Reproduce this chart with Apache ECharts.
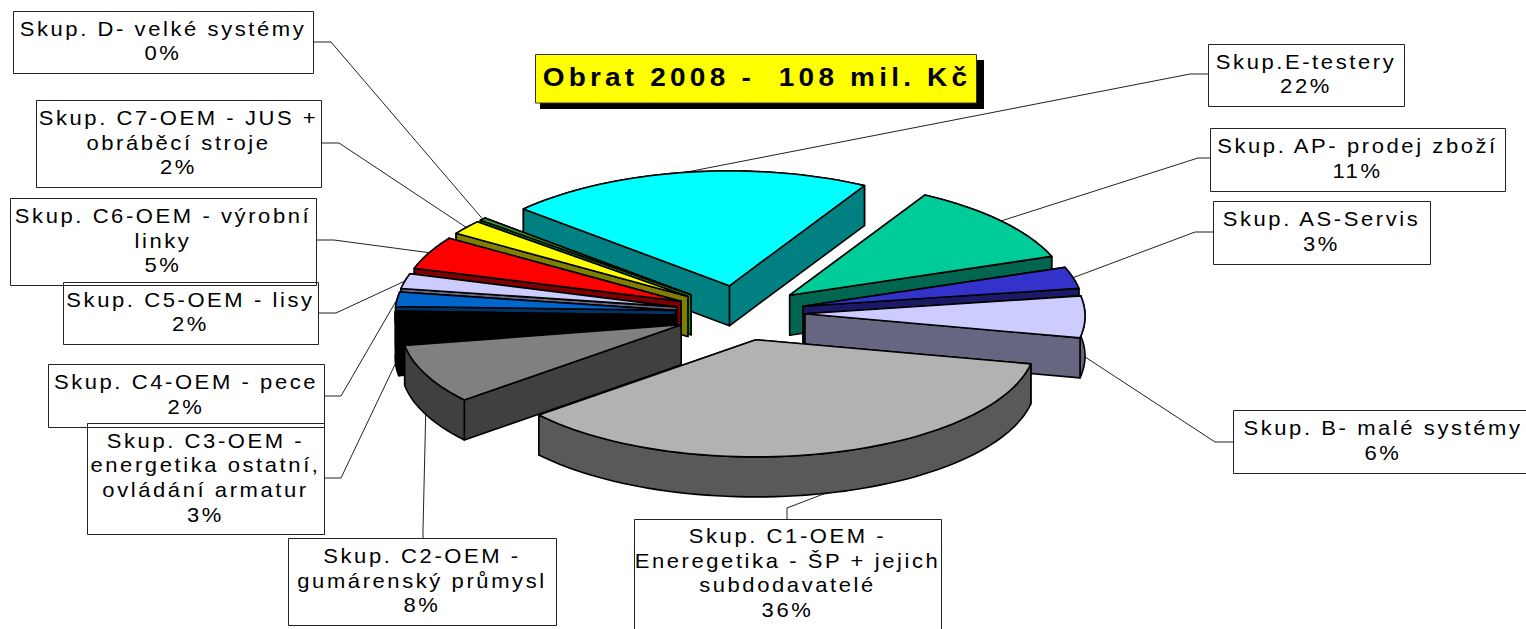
<!DOCTYPE html>
<html>
<head>
<meta charset="utf-8">
<style>
html,body{margin:0;padding:0;background:#fff;}
#main{width:1526px;height:629px;}
svg text{letter-spacing:2.35px;white-space:pre;}
svg text[style*="bold"]{letter-spacing:3.75px;}
</style>
<script src="https://cdn.jsdelivr.net/npm/echarts@6/dist/echarts.min.js"></script>
</head>
<body>
<div id="main"></div>
<script>
// data
var titleText = 'Obrat 2008 -  108 mil. Kč';
var categories = [
  'Skup.E-testery',
  'Skup. AP- prodej zboží',
  'Skup. AS-Servis',
  'Skup. B- malé systémy',
  'Skup. C1-OEM -\nEneregetika - ŠP + jejich\nsubdodavatelé',
  'Skup. C2-OEM -\ngumárenský průmysl',
  'Skup. C3-OEM -\nenergetika ostatní,\novládání armatur',
  'Skup. C4-OEM - pece',
  'Skup. C5-OEM - lisy',
  'Skup. C6-OEM - výrobní\nlinky',
  'Skup. C7-OEM - JUS +\nobráběcí stroje',
  'Skup. D- velké systémy'
];
var values = [21.6, 11.4, 3.0, 5.8, 35.6, 8.3, 3.4, 2.0, 2.1, 4.6, 2.0, 0.4];

// colours
var topColors = ['#00ffff','#00cc99','#3333cc','#ccccff','#b2b2b2','#808080','#000000','#0066cc','#ccccff','#ff0000','#ffff00','#339933'];
var sideColors = ['#008080','#006650','#1a1a66','#666680','#595959','#404040','#000000','#003366','#666680','#800000','#808000','#1a8c1a'];

// back to front
var paintOrder = [0,11,10,9,8,7,6,5,1,2,3,4];

// pie projection
var cx = 740, cy = 313, rx = 280, ry = 116, perspX = 0.02, perspY = 0.01, depth = 40, explode = 65, startAngle = -48.2;
var ky = 118 / 278;

// label boxes: x, y, w, h, then line start and elbow
var labelBoxes = [
  {box:[1208,44,196,62],  from:[1208,74],  elbow:[1190,74]},
  {box:[1210,128,295,63], from:[1210,158], elbow:[1198,158]},
  {box:[1213,201,217,63], from:[1213,232], elbow:[1195,232]},
  {box:[1233,410,300,63], from:[1233,442], elbow:[1215,442]},
  {box:[634,519,307,125], from:[787,519],  elbow:[787,508]},
  {box:[288,538,268,87],  from:[423,538],  elbow:[423,530]},
  {box:[87,423,237,111],  from:[324,478],  elbow:[341,478]},
  {box:[48,364,276,63],   from:[324,396],  elbow:[341,396]},
  {box:[63,282,255,62],   from:[318,313],  elbow:[336,313]},
  {box:[10,198,306,87],   from:[316,240],  elbow:[334,240]},
  {box:[36,100,285,87],   from:[321,143],  elbow:[339,143]},
  {box:[13,11,300,62],    from:[313,42],   elbow:[331,42]}
];

var total = values.reduce(function(a,b){return a+b;},0);
var slices = [];
var acc = startAngle;
values.forEach(function(v){
  slices.push({start:acc,end:acc+v/total*360,mid:acc+v/total*180});
  acc += v/total*360;
});

function apex(s,drop){
  var m = s.mid*Math.PI/180;
  return [cx+explode*Math.sin(m), cy-explode*ky*Math.cos(m)+(drop||0)];
}
function rim(s,deg,drop){
  var t = deg*Math.PI/180, o = apex(s,drop), c = Math.cos(t);
  return [o[0]+rx*(1-perspX*c)*Math.sin(t), o[1]-ry*(1-perspY*c)*c];
}
function poly(points,fill){
  return {type:'polygon',shape:{points:points},
    style:{fill:fill,stroke:'#000',lineWidth:1.6,lineJoin:'round'}};
}
function renderSlice(params,api){
  var i = api.value(0), s = slices[i], n = Math.max(2,Math.ceil((s.end-s.start)/2));
  var top = [], bottom = [];
  for(var k=0;k<=n;k++){
    var d = s.start+(s.end-s.start)*k/n;
    top.push(rim(s,d,0));
    bottom.push(rim(s,d,depth));
  }
  var a0 = apex(s,0), a1 = apex(s,depth);
  var walls = [
    [a0,top[0],bottom[0],a1],
    [a0,top[n],bottom[n],a1],
    top.concat(bottom.slice().reverse())
  ];
  function meanY(p){
    return p.reduce(function(t,q){return t+q[1];},0)/p.length;
  }
  walls.sort(function(a,b){return meanY(a)-meanY(b);});
  var children = walls.map(function(w){return poly(w,sideColors[i]);});
  children.push(poly([a0].concat(top),topColors[i]));
  return {type:'group',children:children};
}
function renderLabel(params,api){
  var i = api.value(0), s = slices[i], L = labelBoxes[i], b = L.box;
  var m = s.mid*Math.PI/180;
  var end = rim(s,s.mid,Math.cos(m)<0?depth:0);
  var pct = Math.round(values[i]/total*100)+'%';
  return {type:'group',children:[
    {type:'rect',shape:{x:b[0]+0.5,y:b[1]+0.5,width:b[2],height:b[3]},
      style:{fill:'none',stroke:'#222',lineWidth:1}},
    {type:'polyline',shape:{points:[L.from,L.elbow,end]},
      style:{fill:'none',stroke:'#222',lineWidth:1}},
    {type:'text',x:b[0]+b[2]/2,y:(i===4?b[1]+54:b[1]+b[3]/2-1),scaleX:1.1,
      style:{text:categories[i]+'\n'+pct,x:0,y:0,
      align:'center',verticalAlign:'middle',fill:'#000',lineHeight:24.7,
      font:'20px "Liberation Sans", Arial, sans-serif'}}
  ]};
}

var chart = echarts.init(document.getElementById('main'),null,{renderer:'svg'});
chart.setOption({
  animation:false,
  backgroundColor:'#fff',
  graphic:[
    {type:'rect',z:5,shape:{x:540,y:60,width:444,height:49},style:{fill:'#000'}},
    {type:'rect',z:6,shape:{x:535.5,y:54.5,width:441,height:48.5},style:{fill:'#ffff00',stroke:'#333',lineWidth:1}},
    {type:'text',z:7,x:757,y:78,scaleX:1.12,style:{text:titleText,x:0,y:0,align:'center',verticalAlign:'middle',fill:'#000',
      font:'bold 25px "Liberation Sans", Arial, sans-serif'}}
  ],
  series:[
    {type:'custom',coordinateSystem:'none',z:1,silent:true,renderItem:renderLabel,
      data:values.map(function(v,i){return [i];})},
    {type:'custom',coordinateSystem:'none',z:2,silent:true,renderItem:renderSlice,
      data:paintOrder.map(function(i){return [i];})}
  ]
});
</script>
</body>
</html>
